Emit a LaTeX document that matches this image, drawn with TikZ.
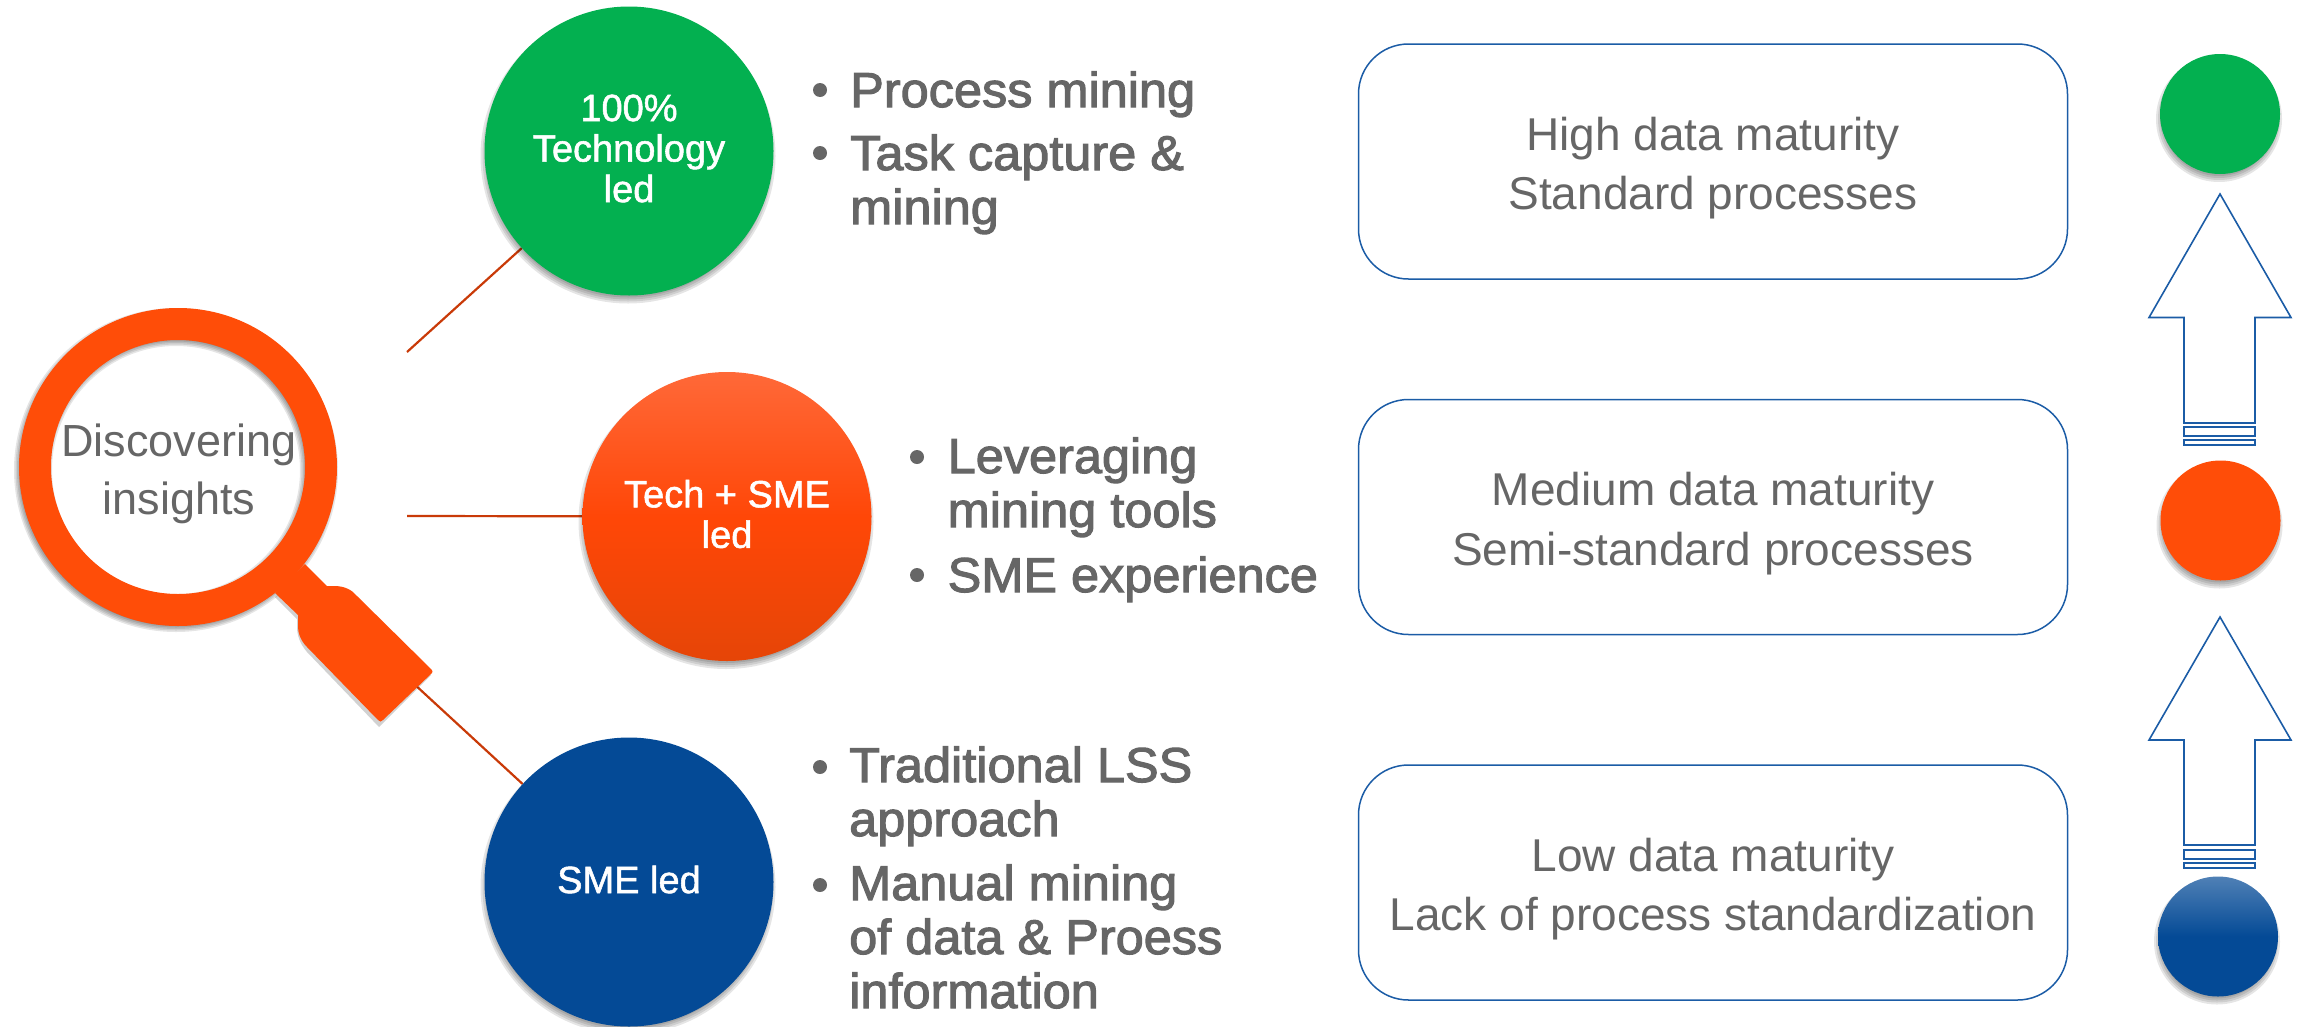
\documentclass[tikz,border=0pt]{standalone}
\usepackage{fontspec}
\setmainfont{Liberation Sans}
\newfontfamily\medfont[FakeStretch=1.03,FakeBold=2.2]{Liberation Sans}
\newfontfamily\whitefont[FakeBold=1.4]{Liberation Sans}
\definecolor{txt}{HTML}{666666}
\definecolor{orng}{HTML}{FF4D08}
\definecolor{grn}{HTML}{03B050}
\definecolor{navy}{HTML}{044A96}
\definecolor{linkc}{HTML}{C93A08}
\definecolor{edge}{HTML}{1B5CA6}
\newcommand{\softdisc}[3]{%
  \foreach \k in {3,1,-1,-3}
    \fill[black,opacity=.1] (#1-1,#2+5) circle[radius=#3+\k];}
\tikzset{
  disc/.style={circle,inner sep=0pt,minimum size=#1},
  disctext/.style={inner sep=0pt,align=center,text=white,yshift=2.5pt,
    font=\whitefont\fontsize{38}{40.5}\selectfont},
  link/.style={linkc,line width=2.2pt},
  infobox/.style={draw=edge,line width=1.5pt,rounded corners=50pt,fill=white,
    minimum width=709pt,minimum height=235pt,inner sep=0pt},
  boxtext/.style={inner sep=0pt,align=center,text=txt,yshift=-6.5pt,
    font=\fontsize{46}{59.5}\selectfont},
  listtext/.style={anchor=base west,inner sep=0pt,align=left,text=txt,
    font=\medfont\fontsize{49}{54}\selectfont},
  dot/.style={circle,fill=txt,inner sep=0pt,minimum size=14pt},
  levelarrow/.style={draw=edge,line width=1.6pt,fill=white},
}
\begin{document}
\begin{tikzpicture}[x=1pt,y=-1pt]
\useasboundingbox (0,0) rectangle (2303,1026);
% connectors first
\coordinate (s1) at (407,352);
\coordinate (s2) at (407,516);
\coordinate (s3) at (400,671);
\node[disc=289pt] (tech) at (629,151) {};
\node[disc=289pt] (mix) at (727,516.5) {};
\node[disc=289pt] (sme) at (629,882) {};
\draw[link] (s1) -- (tech);
\draw[link] (s2) -- (mix);
\draw[link] (s3) -- (sme);
% lens shadow
\foreach \w in {38,35,32,29,26}
  \draw[black,opacity=.1,line width=\w pt] (176,470) circle[radius=143];
\path[fill=black,opacity=.18] (305,568) -- (327,590) -- (334,590) .. controls (345,590) and (352,594) .. (357,600)
  -- (431,675) -- (379,727) -- (307,652) .. controls (300,644) and (297,635) .. (297,627)
  -- (297,619) -- (275,597) -- cycle;
% handle
\fill[orng] (305,564) -- (327,586) -- (334,586) .. controls (345,586) and (352,590) .. (357,596)
  -- (430,668) .. controls (433,671) and (433,672) .. (432,673)
  -- (383,720) .. controls (381,722) and (380,722) .. (378,720)
  -- (307,647) .. controls (300,640) and (298,632) .. (298,627)
  -- (298,615) -- (275,593) -- cycle;
% lens ring
\draw[orng,line width=32pt] (178,467) circle[radius=143];
\node[inner sep=0pt,align=center,text=txt,font=\fontsize{45}{58}\selectfont] (title) at (179,474) {Discovering\\insights};
% big circles
\softdisc{629}{151}{144.5}
\node[disc=289pt,fill=grn,label={[disctext]center:100\%\\Technology\\led}] (techf) at (629,151) {};
\softdisc{727}{516.5}{144.5}
\node[disc=289pt,top color=orng!78!white!90!red,bottom color=orng!90!black,middle color=orng!92!red,label={[disctext]center:Tech + SME\\led}] (mixf) at (727,516.5) {};
\softdisc{629}{882}{144.5}
\node[disc=289pt,fill=navy,label={[disctext]center:SME led}] (smef) at (629,882) {};
% lists
\node[dot] (b1) at (820,90) {};
\node[listtext] (l1) at (850,107) {Process mining};
\node[dot] (b2) at (820,153) {};
\node[listtext] (l2) at (850,224) {Task capture \&\\mining};
\node[dot] (b3) at (917,457) {};
\node[listtext] (l3) at (947.5,527) {Leveraging\\mining tools};
\node[dot] (b4) at (917,575) {};
\node[listtext] (l4) at (947.5,592) {SME experience};
\node[dot] (b5) at (820,767) {};
\node[listtext] (l5) at (849,836) {Traditional LSS\\approach};
\node[dot] (b6) at (820,885) {};
\node[listtext] (l6) at (849,1008) {Manual mining\\of data \& Proess\\information};
% boxes
\node[infobox,label={[boxtext]center:High data maturity\\Standard processes}] (hi) at (1713,161.5) {};
\node[infobox,label={[boxtext]center:Medium data maturity\\Semi-standard processes}] (med) at (1713,517) {};
\node[infobox,label={[boxtext]center:Low data maturity\\Lack of process standardization}] (lo) at (1713,882.5) {};
% level arrows
\draw[levelarrow] (2220,194) -- (2291,317.5) -- (2255,317.5) -- (2255,423) -- (2184,423) -- (2184,317.5) -- (2149,317.5) -- cycle;
\draw[levelarrow] (2184,427) rectangle (2255,436);
\draw[levelarrow] (2184,440) rectangle (2255,445);
\draw[levelarrow] (2220,617) -- (2291,740) -- (2255,740) -- (2255,845) -- (2184,845) -- (2184,740) -- (2149,740) -- cycle;
\draw[levelarrow] (2184,850) rectangle (2255,859);
\draw[levelarrow] (2184,863) rectangle (2255,868);
% level lights
\softdisc{2220}{114}{60}
\node[disc=120pt,fill=grn] (lg) at (2220,114) {};
\softdisc{2220.5}{520.5}{60}
\node[disc=120pt,fill=orng] (lr) at (2220.5,520.5) {};
\softdisc{2218}{936.5}{60}
\node[disc=120pt,top color=navy!70!white,bottom color=navy,middle color=navy] (lb) at (2218,936.5) {};
\end{tikzpicture}
\end{document}
